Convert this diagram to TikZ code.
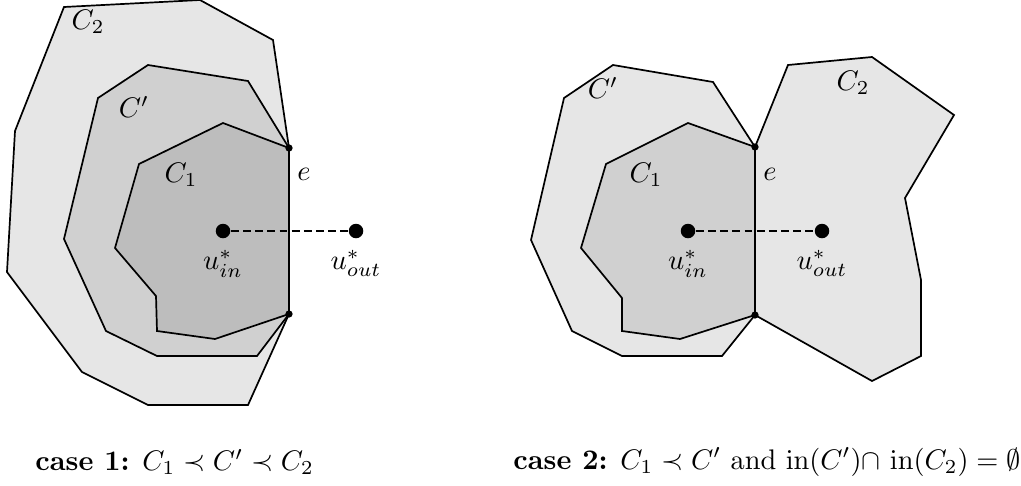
\documentclass[tikz,border=0pt]{standalone}
\usetikzlibrary{positioning}
\definecolor{pgLight}{HTML}{E6E6E6}
\definecolor{pgMid}{HTML}{D0D0D0}
\definecolor{pgDark}{HTML}{BDBDBD}
\tikzset{
  region/.style={draw=black, line width=0.6pt, line join=miter},
  cut/.style={draw=black, line width=0.9pt},
  link/.style={draw=black, line width=0.9pt, dash pattern=on 2.8pt off 1.5pt},
  vtx/.style={circle, fill=black, inner sep=0pt, minimum size=1.8mm},
  endpt/.style={circle, fill=black, inner sep=0pt, minimum size=0.9mm},
  lbl/.style={inner sep=1pt},
}
\begin{document}
\begin{tikzpicture}[x=0.0124cm, y=-0.0124cm]
  \useasboundingbox (0,0) rectangle (1021,485);

  % case 1: nested regions
  \fill[pgLight, region] (64,7) -- (200,0) -- (273,40) -- (289,148) -- (289,314)
    -- (248,405) -- (148,405) -- (82,372) -- (7,272) -- (15,131) -- cycle;
  \fill[pgMid, region] (98,98) -- (148,65) -- (248,81) -- (289,148) -- (289,314)
    -- (257,356) -- (157,356) -- (106,331) -- (64,239) -- cycle;
  \fill[pgDark, region] (139,164) -- (223,123) -- (289,148) -- (289,314)
    -- (215,339) -- (157,331) -- (156,296) -- (115,248) -- cycle;

  \node[endpt] (ea) at (289,148) {};
  \node[endpt] (eb) at (289,314) {};
  \draw[cut] (ea) -- (eb);

  \node[vtx] (uin) at (223,231) {};
  \node[vtx] (uout) at (356,231) {};
  \draw[link] (uin) -- (uout);

  \node[lbl] (ctwo) at (88,22) {$C_2$};
  \node[lbl] (cprime) at (134,107) {$C'$};
  \node[lbl] (cone) at (181,175) {$C_1$};
  \node[lbl] (elbl) at (304,174) {$e$};
  \node[lbl, below=1mm of uin] (uinlbl) {$u^*_{in}$};
  \node[lbl, below=1mm of uout] (uoutlbl) {$u^*_{out}$};

  % case 2: C' and C2 share only e
  \fill[pgLight, region] (613,65) -- (713,82) -- (755,147) -- (755,315)
    -- (722,356) -- (622,356) -- (572,331) -- (531,240) -- (564,98) -- cycle;
  \fill[pgMid, region] (606,164) -- (688,123) -- (755,147) -- (755,315)
    -- (680,339) -- (622,331) -- (622,298) -- (581,248) -- cycle;
  \fill[pgLight, region] (755,147) -- (788,65) -- (872,57) -- (954,115) -- (905,198)
    -- (921,280) -- (921,356) -- (872,381) -- (755,315) -- cycle;

  \node[endpt] (fa) at (755,147) {};
  \node[endpt] (fb) at (755,315) {};
  \draw[cut] (fa) -- (fb);

  \node[vtx] (vin) at (688,231) {};
  \node[vtx] (vout) at (822,231) {};
  \draw[link] (vin) -- (vout);

  \node[lbl] (dprime) at (603,88) {$C'$};
  \node[lbl] (dtwo) at (853,83) {$C_2$};
  \node[lbl] (done) at (646,175) {$C_1$};
  \node[lbl] (flbl) at (770,174) {$e$};
  \node[lbl, below=1mm of vin] (vinlbl) {$u^*_{in}$};
  \node[lbl, below=1mm of vout] (voutlbl) {$u^*_{out}$};

  % captions
  \node[lbl, anchor=west] (capone) at (32,462) {\textbf{case 1:} $C_1 \prec C' \prec C_2$};
  \node[lbl, anchor=west] (captwo) at (510,462)
    {\textbf{case 2:} $C_1 \prec C'$ and $\mathrm{in}(C')$$\cap$ $\mathrm{in}(C_2) = \emptyset$};
\end{tikzpicture}
\end{document}
